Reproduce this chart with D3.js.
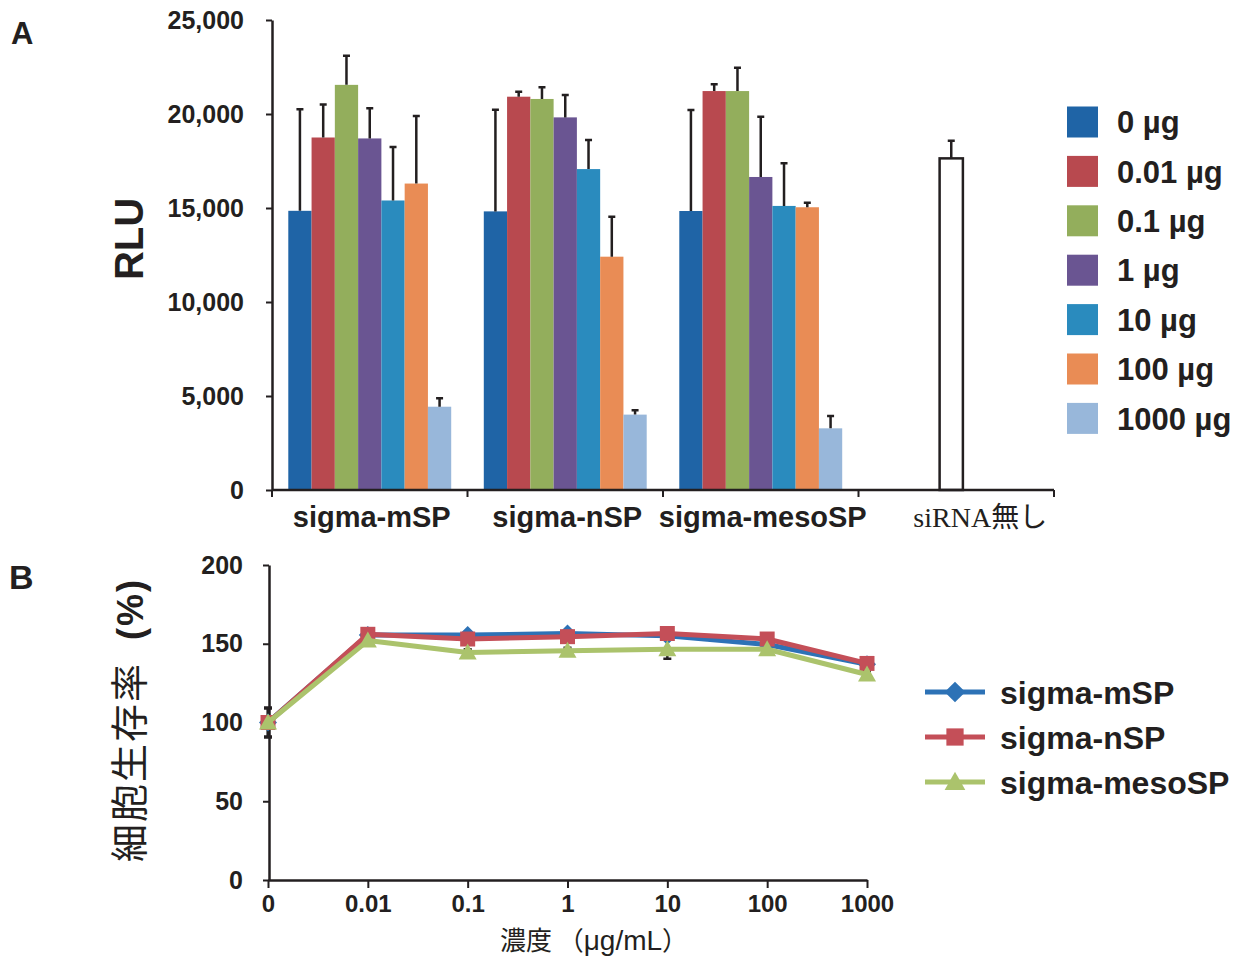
<!DOCTYPE html>
<html>
<head>
<meta charset="utf-8">
<script src="https://cdn.jsdelivr.net/npm/d3@7"></script>
<style>
  body { margin: 0; background: #fff; }
  text { font-family: 'Liberation Sans', Arial, sans-serif; fill: #231f20; }
</style>
</head>
<body>
<script>
const width = 1252
const height = 960

// panel A data
const groups = ['sigma-mSP', 'sigma-nSP', 'sigma-mesoSP']
const categories = ['sigma-mSP', 'sigma-nSP', 'sigma-mesoSP', 'siRNA無し']
const doses = ['0 µg', '0.01 µg', '0.1 µg', '1 µg', '10 µg', '100 µg', '1000 µg']
const rluMSP = [14850, 18750, 21550, 18700, 15400, 16300, 4430]
const errMSP = [5400, 1750, 1550, 1600, 2850, 3600, 450]
const rluNSP = [14820, 20920, 20800, 19820, 17070, 12410, 4010]
const errNSP = [5410, 270, 620, 1190, 1550, 2130, 230]
const rluMeso = [14840, 21220, 21220, 16650, 15110, 15040, 3280]
const errMeso = [5370, 360, 1240, 3210, 2270, 240, 660]
const siRNAValue = 17640
const siRNAErr = 940
const rluTicks = [0, 5000, 10000, 15000, 20000, 25000]

// panel B data
const concLabels = ['0', '0.01', '0.1', '1', '10', '100', '1000']
const viabSeries = ['sigma-mSP', 'sigma-nSP', 'sigma-mesoSP']
const viabMSP = [100, 155.5, 155.5, 156.5, 155, 149.5, 137]
const viabNSP = [100, 156, 153, 154.5, 156.5, 153, 137.5]
const viabMeso = [100, 152, 144.5, 145.5, 146.5, 146.5, 130.5]
const viabErrMSP = [9.5, 2, 2, 2, 2, 2, 2]
const viabErrNSP = [9, 2, 2, 2, 2, 2, 2]
const viabErrMeso = [9, 2, 2, 2, 6, 2, 2]
const viabTicks = [0, 50, 100, 150, 200]

const doseColors = ['#1f64a6', '#b8494f', '#93ae5c', '#6a5592', '#2a8bbe', '#e98c55', '#98b7da']
const lineColors = ['#2d72b6', '#c44f58', '#abc36c']

const rluTable = groups.map((g, i) => ({
  group: g,
  values: [rluMSP, rluNSP, rluMeso][i],
  errs: [errMSP, errNSP, errMeso][i]
}))

const viabTable = viabSeries.map((s, i) => ({
  name: s,
  values: [viabMSP, viabNSP, viabMeso][i],
  errs: [viabErrMSP, viabErrNSP, viabErrMeso][i],
  color: lineColors[i]
}))

let svg = d3.select('body')
  .append('svg')
    .attr('width', width)
    .attr('height', height)

svg.append('rect').attr('width', width).attr('height', height).attr('fill', '#fff')

const ink = '#231f20'

// ---------- panel A ----------

const xA = d3.scaleBand()
  .domain(categories)
  .range([272, 1054])

const x1 = d3.scaleBand()
  .domain(doses)
  .range([0, xA.bandwidth()])
  .paddingOuter(0.7)

const yA = d3.scaleLinear()
  .domain([0, 25000])
  .range([490, 20])

svg.append('text')
  .attr('x', 11).attr('y', 44)
  .attr('font-size', 31).attr('font-weight', 'bold')
  .text('A')

let bars = svg.append('g')

rluTable.forEach((g) => {
  let grp = bars.append('g')
    .attr('transform', 'translate(' + xA(g.group) + ',0)')
  grp.selectAll('rect')
    .data(g.values)
    .join('rect')
      .attr('x', (d, i) => x1(doses[i]))
      .attr('y', (d) => yA(d))
      .attr('width', x1.bandwidth())
      .attr('height', (d) => yA(0) - yA(d))
      .attr('fill', (d, i) => doseColors[i])
  grp.selectAll('path')
    .data(g.values)
    .join('path')
      .attr('d', (d, i) => {
        let cx = x1(doses[i]) + x1.bandwidth() / 2
        let top = yA(d + g.errs[i])
        return 'M' + cx + ',' + yA(d) + 'V' + top + 'M' + (cx - 3.5) + ',' + top + 'H' + (cx + 3.5)
      })
      .attr('stroke', ink)
      .attr('stroke-width', 2.5)
      .attr('fill', 'none')
})

// siRNA free control
let ctrlX = xA('siRNA無し') + x1(doses[3]) - 5
bars.append('rect')
  .attr('x', ctrlX)
  .attr('y', yA(siRNAValue))
  .attr('width', x1.bandwidth())
  .attr('height', yA(0) - yA(siRNAValue))
  .attr('fill', '#fff')
  .attr('stroke', ink)
  .attr('stroke-width', 2.5)
bars.append('path')
  .attr('d', () => {
    let cx = ctrlX + x1.bandwidth() / 2
    let top = yA(siRNAValue + siRNAErr)
    return 'M' + cx + ',' + yA(siRNAValue) + 'V' + top + 'M' + (cx - 3.5) + ',' + top + 'H' + (cx + 3.5)
  })
  .attr('stroke', ink)
  .attr('stroke-width', 2.5)

// y axis A
let axisYA = svg.append('g')
  .attr('transform', 'translate(272,0)')
  .call(d3.axisLeft(yA).tickValues(rluTicks).tickFormat(d3.format(',')).tickSize(6).tickSizeOuter(0).tickPadding(22))
axisYA.select('.domain').attr('stroke', ink).attr('stroke-width', 2.5)
axisYA.selectAll('.tick line').attr('stroke', ink).attr('stroke-width', 2)
axisYA.selectAll('.tick text')
  .attr('font-size', 25).attr('font-weight', 'bold')
  .attr('font-family', "'Liberation Sans', Arial, sans-serif").attr('fill', ink)

svg.append('text')
  .attr('transform', 'translate(143,239) rotate(-90)')
  .attr('text-anchor', 'middle')
  .attr('font-size', 40).attr('font-weight', 'bold')
  .text('RLU')

// x axis A
svg.append('path')
  .attr('d', 'M' + xA.range()[0] + ',' + yA(0) + 'H' + xA.range()[1])
  .attr('stroke', ink).attr('stroke-width', 2.5)
svg.append('g')
  .selectAll('line')
  .data(categories.map((c) => xA(c)).concat([xA.range()[1]]))
  .join('line')
    .attr('x1', (d) => d).attr('x2', (d) => d)
    .attr('y1', yA(0)).attr('y2', yA(0) + 7)
    .attr('stroke', ink).attr('stroke-width', 2)

svg.append('g')
  .selectAll('text')
  .data(categories)
  .join('text')
    .attr('x', (d) => xA(d) + xA.bandwidth() / 2 + (d === 'siRNA無し' ? 24 : 2))
    .attr('y', 527)
    .attr('text-anchor', 'middle')
    .attr('font-size', (d) => d === 'siRNA無し' ? 28 : 29)
    .attr('font-weight', (d) => d === 'siRNA無し' ? 'normal' : 'bold')
    .style('font-family', (d) => d === 'siRNA無し' ? "'Liberation Serif', 'Noto Sans CJK JP', serif" : null)
    .text((d) => d)

// legend A
let legA = svg.append('g')
  .selectAll('g')
  .data(doses)
  .join('g')
    .attr('transform', (d, i) => 'translate(1067,' + (122 + i * 49.4) + ')')
legA.append('rect')
  .attr('x', 0).attr('y', -15.5)
  .attr('width', 31).attr('height', 31)
  .attr('fill', (d, i) => doseColors[i])
legA.append('text')
  .attr('x', 50).attr('dy', '0.36em')
  .attr('font-size', 31).attr('font-weight', 'bold')
  .text((d) => d)

// ---------- panel B ----------

const xB = d3.scalePoint()
  .domain(concLabels)
  .range([268, 867])

const yB = d3.scaleLinear()
  .domain([0, 200])
  .range([880, 565])

svg.append('text')
  .attr('x', 9).attr('y', 589)
  .attr('font-size', 34).attr('font-weight', 'bold')
  .text('B')

let axisYB = svg.append('g')
  .attr('transform', 'translate(269,0)')
  .call(d3.axisLeft(yB).tickValues(viabTicks).tickSize(6).tickSizeOuter(0).tickPadding(20))
axisYB.select('.domain').attr('stroke', ink).attr('stroke-width', 2.5)
axisYB.selectAll('.tick line').attr('stroke', ink).attr('stroke-width', 2)
axisYB.selectAll('.tick text')
  .attr('font-size', 25).attr('font-weight', 'bold')
  .attr('font-family', "'Liberation Sans', Arial, sans-serif").attr('fill', ink)

let axisXB = svg.append('g')
  .attr('transform', 'translate(0,' + yB(0) + ')')
  .call(d3.axisBottom(xB).tickSize(8).tickSizeOuter(0).tickPadding(7))
axisXB.select('.domain').attr('stroke', ink).attr('stroke-width', 2.5)
axisXB.selectAll('.tick line').attr('stroke', ink).attr('stroke-width', 2)
axisXB.selectAll('.tick text')
  .attr('font-size', 24).attr('font-weight', 'bold')
  .attr('font-family', "'Liberation Sans', Arial, sans-serif").attr('fill', ink)

let yTitleB = svg.append('text')
  .attr('transform', 'translate(143,720) rotate(-90)')
  .attr('text-anchor', 'middle')
  .attr('font-size', 38)
  .attr('letter-spacing', 2)
  .style('font-family', "'Noto Sans CJK JP', sans-serif")
  .text('細胞生存率')
yTitleB.append('tspan').attr('dx', 22).text('(%)')
  .style('font-family', "'Liberation Sans', Arial, sans-serif")
  .attr('font-weight', 'bold').attr('font-size', 36)

let xTitleB = svg.append('text')
  .attr('x', 594).attr('y', 950)
  .attr('text-anchor', 'middle')
  .attr('font-size', 26)
  .style('font-family', "'Noto Sans CJK JP', sans-serif")
  .text('濃度 （')
xTitleB.append('tspan').text('μg/mL')
  .style('font-family', "'Liberation Sans', Arial, sans-serif")
  .attr('font-size', 28)
xTitleB.append('tspan').text('）')

// error bars first, behind the lines
viabTable.forEach((s) => {
  svg.append('g')
    .selectAll('path')
    .data(s.values)
    .join('path')
      .attr('d', (d, i) => {
        let cx = xB(concLabels[i])
        let lo = yB(d - s.errs[i]), hi = yB(d + s.errs[i])
        return 'M' + cx + ',' + lo + 'V' + hi + 'M' + (cx - 4) + ',' + lo + 'H' + (cx + 4) + 'M' + (cx - 4) + ',' + hi + 'H' + (cx + 4)
      })
      .attr('stroke', ink).attr('stroke-width', 2.5).attr('fill', 'none')
})

const line = d3.line()
  .x((d, i) => xB(concLabels[i]))
  .y((d) => yB(d))

const markerPath = (k, s) => {
  if (k === 0) return 'M0,' + (-9 * s) + 'L' + (9 * s) + ',0L0,' + (9 * s) + 'L' + (-9 * s) + ',0Z'
  if (k === 1) return 'M' + (-7.5 * s) + ',' + (-7.5 * s) + 'H' + (7.5 * s) + 'V' + (7.5 * s) + 'H' + (-7.5 * s) + 'Z'
  return 'M0,' + (-9 * s) + 'L' + (9 * s) + ',' + (7 * s) + 'H' + (-9 * s) + 'Z'
}

viabTable.forEach((s, k) => {
  svg.append('path')
    .attr('d', line(s.values))
    .attr('fill', 'none')
    .attr('stroke', s.color)
    .attr('stroke-width', 5)
    .attr('stroke-linejoin', 'round')
  svg.append('g')
    .selectAll('path')
    .data(s.values)
    .join('path')
      .attr('transform', (d, i) => 'translate(' + xB(concLabels[i]) + ',' + yB(d) + ')')
      .attr('d', markerPath(k, 1))
      .attr('fill', s.color)
})

// legend B
let legB = svg.append('g')
  .selectAll('g')
  .data(viabTable)
  .join('g')
    .attr('transform', (d, i) => 'translate(925,' + (692 + i * 45) + ')')
legB.append('path')
  .attr('d', 'M0,0H60')
  .attr('stroke', (d) => d.color).attr('stroke-width', 5)
legB.append('path')
  .attr('transform', 'translate(30,0)')
  .attr('d', (d, i) => markerPath(i, 1.15))
  .attr('fill', (d) => d.color)
legB.append('text')
  .attr('x', 75).attr('dy', '0.36em')
  .attr('font-size', 32).attr('font-weight', 'bold')
  .text((d) => d.name)
</script>
</body>
</html>
